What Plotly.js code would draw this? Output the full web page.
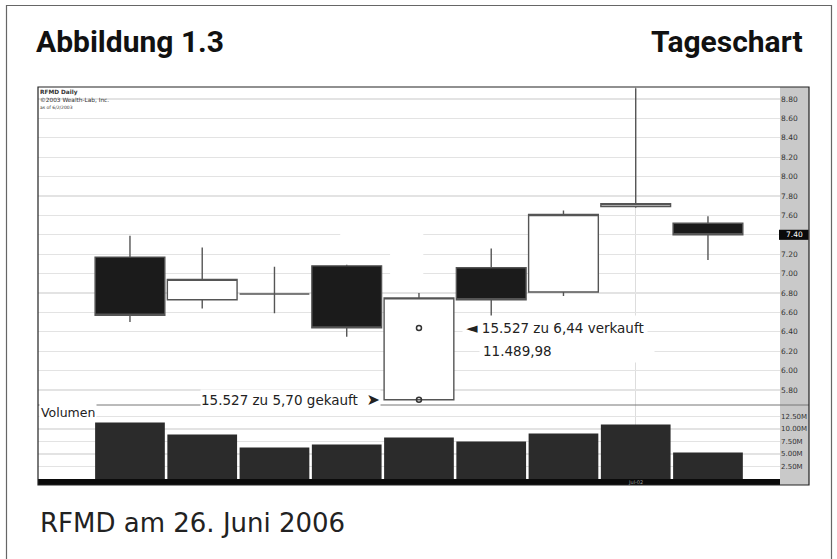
<!DOCTYPE html>
<html><head><meta charset="utf-8">
<script src="https://cdn.plot.ly/plotly-3.0.1.min.js"></script>
<style>html,body{margin:0;padding:0;background:#fff;} #chart{width:837px;height:559px;}</style>
</head><body><div id="chart"></div>
<script>
// ---- data ----
const sessions = [1, 2, 3, 4, 5, 6, 7, 8, 9];
const opens  = [7.17, 6.73, 6.79, 7.08, 5.70, 7.06, 6.81, 7.69, 7.52];
const highs  = [7.39, 7.27, 7.07, 7.09, 6.80, 7.26, 7.65, 8.91, 7.59];
const lows   = [6.50, 6.64, 6.59, 6.35, 5.70, 6.54, 6.77, 7.68, 7.14];
const closes = [6.57, 6.94, 6.79, 6.44, 6.75, 6.73, 7.61, 7.72, 7.40];
const volumesM = [11.3, 8.9, 6.3, 6.9, 8.3, 7.5, 9.1, 10.9, 5.3];
const priceTicks = [5.80, 6.00, 6.20, 6.40, 6.60, 6.80, 7.00, 7.20, 7.40, 7.60, 7.80, 8.00, 8.20, 8.40, 8.60, 8.80];
const priceTickText = ['5.80','6.00','6.20','6.40','6.60','6.80','7.00','7.20','7.40','7.60','7.80','8.00','8.20','8.40','8.60','8.80'];
const volumeTicks = [2.5, 5, 7.5, 10, 12.5];
const volumeTickText = ['2.50M','5.00M','7.50M','10.00M','12.50M'];
const dateTickSessions = [8];
const dateTickText = ['Jul-02'];
const tradeSessions = [5, 5];
const tradePrices = [5.70, 6.44];
const tradeTexts = ['15.527 zu 5,70 gekauft', '15.527 zu 6,44 verkauft', '11.489,98'];
const lastPrice = 7.40;
const lastPriceText = '7.40';

// ---- pixel helpers for the frame ----
const L = 38, R = 780, T = 87, B = 479;
const xp = px => (px - L) / (R - L);
const yp = py => (B - py) / (B - T);
const volDomainTop = yp(405);

const FONT = 'DejaVu Sans, Verdana, sans-serif';
const HEAD = 'Roboto, Liberation Sans, sans-serif';

const traces = [
  {
    type: 'candlestick', x: sessions, open: opens, high: highs, low: lows, close: closes,
    xaxis: 'x', yaxis: 'y', showlegend: false, hoverinfo: 'skip',
    increasing: {line: {color: '#555555', width: 1.4}, fillcolor: '#ffffff'},
    decreasing: {line: {color: '#555555', width: 1.4}, fillcolor: '#1b1b1b'}
  },
  {
    type: 'bar', x: sessions, y: volumesM, xaxis: 'x', yaxis: 'y2', width: 0.965,
    marker: {color: '#2b2b2b', line: {width: 0}}, showlegend: false, hoverinfo: 'skip'
  },
  {
    type: 'scatter', mode: 'markers', x: tradeSessions, y: tradePrices, xaxis: 'x', yaxis: 'y',
    marker: {symbol: 'circle-open', size: 5, color: '#333', line: {width: 1.5, color: '#333'}},
    showlegend: false, hoverinfo: 'skip'
  }
];

const layout = {
  width: 837, height: 559,
  margin: {l: L, r: 837 - R, t: T, b: 559 - B, pad: 0},
  paper_bgcolor: '#ffffff', plot_bgcolor: '#ffffff',
  boxgap: 0.035, boxgroupgap: 0,
  showlegend: false,
  font: {family: FONT, color: '#222'},
  xaxis: {
    range: [-0.273, 9.997], anchor: 'y2', showgrid: true, gridcolor: '#dddddd', gridwidth: 1.2,
    tickvals: dateTickSessions, showticklabels: false, ticks: '', zeroline: false, showline: false,
    rangeslider: {visible: false}, fixedrange: true
  },
  yaxis: {
    domain: [volDomainTop, 1], anchor: 'x', side: 'right', range: [5.6454, 8.9237],
    tickvals: priceTicks, ticktext: priceTickText.map(t => t === lastPriceText ? '' : t),
    showgrid: true, gridcolor: '#e3e3e3', gridwidth: 1.3,
    ticks: '', zeroline: false, showline: false, tickfont: {family: FONT, size: 7.5, color: '#333'}
  },
  yaxis2: {
    domain: [0, volDomainTop], anchor: 'x', side: 'right', range: [0, 14.8],
    tickvals: volumeTicks, ticktext: volumeTickText, showgrid: true, gridcolor: '#e3e3e3', gridwidth: 1.3,
    ticks: '', zeroline: false, showline: false, tickfont: {family: FONT, size: 7, color: '#333'}
  },
  shapes: [
    {type: 'rect', xref: 'paper', yref: 'paper', x0: xp(6.5), x1: xp(831.5), y0: yp(570), y1: yp(5.5),
     line: {color: '#666', width: 1.2}, fillcolor: 'rgba(0,0,0,0)', layer: 'below'},
    {type: 'rect', xref: 'paper', yref: 'paper', x0: xp(780), x1: xp(809), y0: yp(485), y1: yp(87),
     line: {width: 0}, fillcolor: '#c9c9c9', layer: 'below'},
    {type: 'rect', xref: 'x', yref: 'y', x0: 3.91, x1: 5.06, y0: 7.32, y1: 7.47,
     line: {width: 0}, fillcolor: '#ffffff', layer: 'between'},
    {type: 'rect', xref: 'x', yref: 'y', x0: 4.6, x1: 5.06, y0: 6.83, y1: 7.32,
     line: {width: 0}, fillcolor: '#ffffff', layer: 'between'},
    {type: 'rect', xref: 'paper', yref: 'paper', x0: xp(38), x1: xp(780), y0: yp(485), y1: yp(479),
     line: {width: 0}, fillcolor: '#0b0b0b', layer: 'above'},
    {type: 'line', xref: 'paper', yref: 'paper', x0: xp(38), x1: xp(809), y0: volDomainTop, y1: volDomainTop,
     line: {color: '#777', width: 1}, layer: 'above'},
    {type: 'rect', xref: 'paper', yref: 'paper', x0: xp(38), x1: xp(809), y0: yp(485), y1: yp(87),
     line: {color: '#222', width: 1.2}, fillcolor: 'rgba(0,0,0,0)', layer: 'above'},
    {type: 'rect', xref: 'paper', yref: 'y', x0: xp(779), x1: xp(808.5), y0: lastPrice - 0.052, y1: lastPrice + 0.052,
     line: {width: 0}, fillcolor: '#0a0a0a', layer: 'above'}
  ],
  annotations: [
    {text: '<b>Abbildung 1.3</b>', xref: 'paper', yref: 'paper', x: xp(34), y: yp(41.5), xanchor: 'left', yanchor: 'middle',
     showarrow: false, font: {family: HEAD, size: 30, color: '#111'}},
    {text: '<b>Tageschart</b>', xref: 'paper', yref: 'paper', x: xp(805), y: yp(41.5), xanchor: 'right', yanchor: 'middle',
     showarrow: false, font: {family: HEAD, size: 30, color: '#111'}},
    {text: 'RFMD am 26. Juni 2006', xref: 'paper', yref: 'paper', x: xp(38), y: yp(523), xanchor: 'left', yanchor: 'middle',
     showarrow: false, font: {family: FONT, size: 26, color: '#222'}},
    {text: '<b>RFMD Daily</b><br>\u00A92003 Wealth-Lab, Inc.<br><span style="font-size:4.5px">as of 6/2/2003</span>',
     xref: 'paper', yref: 'paper', x: xp(39), y: yp(87.5), xanchor: 'left', yanchor: 'top', align: 'left', borderpad: 0,
     showarrow: false, font: {family: FONT, size: 5.8, color: '#333'}},
    {text: 'Volumen', xref: 'paper', yref: 'paper', x: xp(38.5), y: yp(412), xanchor: 'left', yanchor: 'middle',
     showarrow: false, bgcolor: '#ffffff', borderpad: 1, font: {family: FONT, size: 12.5, color: '#222'}},
    {text: tradeTexts[0] + '\u00A0\u00A0<span style="font-size:16px">\u27A4</span>', xref: 'x', yref: 'y',
     x: tradeSessions[0], y: tradePrices[0], xanchor: 'right', yanchor: 'middle',
     xshift: -38, showarrow: false, bgcolor: '#ffffff', borderpad: 0, font: {family: FONT, size: 13.5, color: '#222'}},
    {text: '<span style="font-size:15px">\u25C4</span>\u00A0' + tradeTexts[1], xref: 'x', yref: 'y',
     x: tradeSessions[1], y: tradePrices[1], xanchor: 'left', yanchor: 'middle',
     xshift: 43, showarrow: false, bgcolor: '#ffffff', borderpad: 3, font: {family: FONT, size: 13.5, color: '#222'}},
    {text: tradeTexts[2], xref: 'x', yref: 'y', x: tradeSessions[1], y: tradePrices[1], xanchor: 'left', yanchor: 'middle',
     xshift: 60, yshift: -23, width: 168, align: 'left', showarrow: false, bgcolor: '#ffffff', borderpad: 3,
     font: {family: FONT, size: 13.5, color: '#222'}},
    {text: dateTickText[0], xref: 'x', yref: 'paper', x: dateTickSessions[0], y: yp(482), xanchor: 'center', yanchor: 'middle',
     showarrow: false, font: {family: FONT, size: 5, color: '#999'}},
    {text: lastPriceText, xref: 'paper', yref: 'y', x: xp(794), y: lastPrice, xanchor: 'center', yanchor: 'middle',
     showarrow: false, font: {family: FONT, size: 7.5, color: '#ffffff'}}
  ]
};

Plotly.newPlot('chart', traces, layout, {staticPlot: true, displayModeBar: false});
</script>
</body></html>
